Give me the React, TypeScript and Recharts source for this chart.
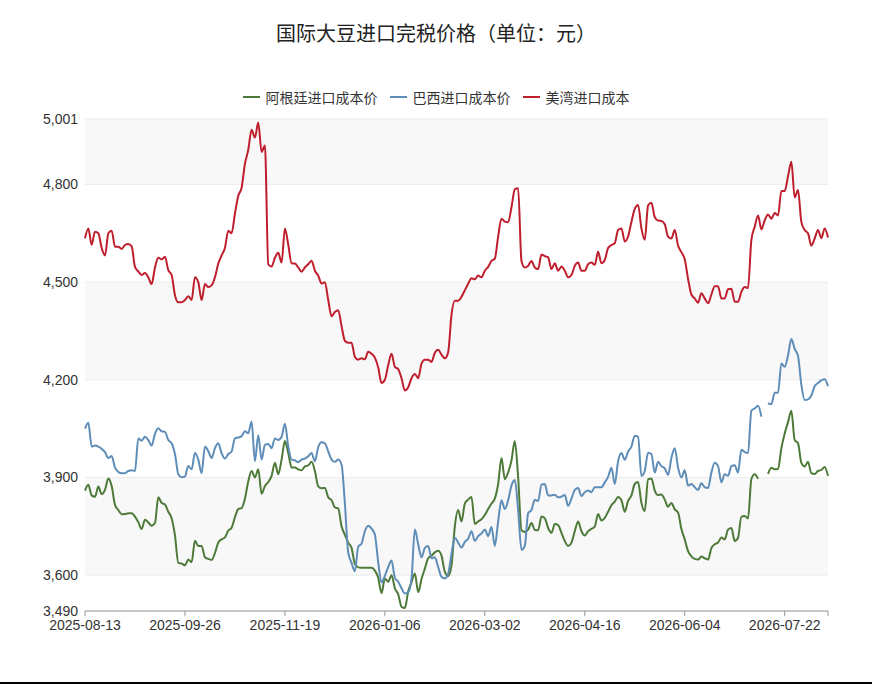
import React from 'react';
import { LineChart, Line, XAxis, YAxis, CartesianGrid } from 'recharts';

const TITLE = '国际大豆进口完税价格（单位：元）';
const SERIES_NAMES = ['阿根廷进口成本价', '巴西进口成本价', '美湾进口成本'];
const COLORS = ['#4d7a38', '#5e8db8', '#bf1e2d'];

const xTickLabels = ['2025-08-13', '2025-09-26', '2025-11-19', '2026-01-06', '2026-03-02', '2026-04-16', '2026-06-04', '2026-07-22'];
const xTickIndex = [0, 30, 60, 90, 120, 150, 180, 210, 223];
const yTicks = [3490, 3600, 3900, 4200, 4500, 4800, 5001];

const usGulf: (number | null)[] = [
  4635, 4665, 4615, 4655, 4650, 4605, 4582, 4650, 4658, 4609,
  4609, 4602, 4614, 4617, 4610, 4547, 4533, 4522, 4528, 4515,
  4494, 4545, 4575, 4570, 4578, 4537, 4522, 4460, 4438, 4438,
  4445, 4457, 4445, 4515, 4500, 4445, 4494, 4485, 4490, 4515,
  4557, 4582, 4605, 4658, 4650, 4710, 4765, 4790, 4863, 4906,
  4968, 4944, 4990, 4900, 4920, 4555, 4548, 4575, 4590, 4560,
  4665, 4615, 4558, 4557, 4545, 4532, 4545, 4555, 4566, 4535,
  4520, 4496, 4500, 4445, 4395, 4408, 4414, 4365, 4320, 4314,
  4314, 4270, 4262, 4266, 4263, 4286, 4280, 4268, 4238, 4190,
  4200, 4245, 4280, 4240, 4233, 4205, 4167, 4177, 4205, 4218,
  4205, 4250, 4262, 4262, 4255, 4283, 4292, 4277, 4266, 4285,
  4400, 4443, 4443, 4455, 4475, 4495, 4512, 4509, 4520, 4515,
  4535, 4547, 4565, 4572, 4640, 4695, 4686, 4684, 4730, 4785,
  4788, 4565, 4545, 4550, 4565, 4545, 4540, 4585, 4580, 4576,
  4540, 4558, 4535, 4548, 4535, 4515, 4522, 4550, 4560, 4535,
  4535, 4555, 4560, 4553, 4593, 4558, 4568, 4605, 4614, 4620,
  4660, 4665, 4625, 4640, 4685, 4725, 4737, 4665, 4630, 4735,
  4744, 4700, 4689, 4688, 4678, 4640, 4634, 4660, 4612, 4592,
  4570, 4510, 4462, 4450, 4437, 4466, 4450, 4435, 4462, 4487,
  4487, 4450, 4450, 4478, 4480, 4440, 4440, 4470, 4485, 4482,
  4630, 4670, 4705, 4662, 4690, 4708, 4695, 4712, 4705, 4780,
  4780, 4825, 4870, 4760, 4783, 4685, 4660, 4650, 4612, 4634,
  4660, 4635, 4665, 4637,
];

const argentina: (number | null)[] = [
  3860, 3878, 3845, 3841, 3872, 3849, 3862, 3897, 3874, 3816,
  3800, 3787, 3788, 3790, 3790, 3780, 3763, 3742, 3770, 3762,
  3752, 3760, 3839, 3822, 3817, 3795, 3775, 3722, 3638, 3636,
  3630, 3648, 3640, 3706, 3690, 3690, 3655, 3650, 3647, 3668,
  3700, 3710, 3716, 3737, 3746, 3778, 3803, 3806, 3835, 3888,
  3920, 3900, 3925, 3850, 3874, 3886, 3905, 3945, 3910, 3955,
  4012, 3975, 3931, 3931, 3925, 3922, 3934, 3937, 3948, 3920,
  3873, 3867, 3868, 3839, 3830, 3808, 3805, 3750, 3724, 3700,
  3684, 3635, 3624, 3623, 3623, 3623, 3623, 3614, 3592, 3545,
  3590, 3580, 3600, 3560, 3541, 3503, 3499, 3550, 3578, 3605,
  3548, 3588, 3620, 3652, 3660, 3670, 3675, 3660, 3610, 3597,
  3630, 3750, 3800, 3765, 3820, 3832, 3840, 3757, 3765, 3772,
  3785, 3803, 3820, 3835, 3880, 3960, 3895, 3916, 3952, 4012,
  3900, 3738, 3733, 3740, 3760, 3739, 3738, 3780, 3775, 3745,
  3730, 3757, 3754, 3730, 3705, 3690, 3700, 3735, 3765, 3735,
  3722, 3735, 3742, 3749, 3788, 3768, 3776, 3795, 3815, 3826,
  3840, 3830, 3795, 3828, 3845, 3880, 3886, 3822, 3797, 3894,
  3897, 3860, 3846, 3848, 3832, 3810, 3822, 3802, 3792, 3742,
  3710, 3674, 3658, 3650, 3648, 3657, 3652, 3648, 3683, 3695,
  3700, 3716, 3710, 3740, 3745, 3705, 3715, 3780, 3782, 3774,
  3895, 3910, 3896, null, null, 3911, 3930, 3925, 3926, 3990,
  4035, 4070, 4105, 4015, 4005, 3945, 3934, 3948, 3913, 3911,
  3920, 3923, 3932, 3905,
];

const brazil: (number | null)[] = [
  4050, 4068, 3995, 3998, 3995, 3988, 3978, 3960, 3966, 3930,
  3917, 3913, 3913, 3920, 3922, 3920, 4020, 4013, 4025, 4015,
  3998, 4034, 4051, 4042, 4040, 4015, 4005, 3972, 3910, 3901,
  3903, 3935, 3925, 3975, 3955, 3913, 3995, 3981, 3960, 3990,
  4005, 3975, 3958, 3972, 3980, 4020, 4023, 4027, 4042, 4036,
  4072, 3950, 4030, 3955, 4000, 4003, 3990, 4020, 4015, 4025,
  4065, 3995, 3955, 3953, 3947, 3955, 3958, 3965, 3975, 3950,
  3993, 4008, 4005, 3980, 3955, 3948, 3955, 3940, 3820, 3670,
  3638, 3612, 3687, 3697, 3735, 3752, 3743, 3725, 3640, 3578,
  3598, 3625, 3645, 3592, 3580, 3560, 3544, 3547, 3590, 3740,
  3695, 3655, 3684, 3690, 3652, 3655, 3625, 3595, 3590, 3605,
  3665, 3715, 3700, 3685, 3702, 3712, 3735, 3705, 3720, 3728,
  3740, 3720, 3748, 3690, 3765, 3830, 3803, 3830, 3875, 3892,
  3800, 3678, 3690, 3790, 3800, 3832, 3828, 3878, 3880, 3845,
  3845, 3847, 3839, 3841, 3846, 3813, 3835, 3862, 3868, 3843,
  3855, 3860, 3855, 3870, 3870, 3870, 3885, 3902, 3930, 3880,
  3950, 3975, 3954, 3980, 3995, 4028, 4025, 3905, 3920, 3976,
  3972, 3915, 3948, 3935, 3928, 3908, 3960, 3990, 3930, 3900,
  3922, 3875, 3880, 3870, 3862, 3882, 3870, 3868, 3915, 3945,
  3935, 3885, 3910, 3905, 3935, 3938, 3915, 3985, 3978, 3975,
  4105, 4112, 4120, 4087, null, 4128, 4125, 4160, 4160, 4250,
  4240, 4275, 4325, 4295, 4273, 4185, 4138, 4140, 4152, 4180,
  4190, 4198, 4202, 4180,
];

const data = usGulf.map((v, i) => ({
  i,
  ag: argentina[i],
  br: brazil[i],
  us: v,
}));

const FONT = '"Liberation Sans", Arial, "Noto Sans CJK SC", sans-serif';
const CJK = '"Noto Sans CJK SC", "Liberation Sans", sans-serif';

export default function App() {
  const formatX = (v: number) => {
    const k = xTickIndex.indexOf(v);
    return k >= 0 && k < xTickLabels.length ? xTickLabels[k] : '';
  };
  return (
    <div style={{ position: 'absolute', left: 0, top: 0, width: 872, height: 684, background: '#fff', fontFamily: FONT }}>
      <LineChart width={872} height={684} data={data} margin={{ top: 119, right: 44, bottom: 43, left: 0 }}>
        <CartesianGrid vertical={false} stroke="#ececec" horizontalFill={['#f8f8f8', '#ffffff']} fillOpacity={1} />
        <XAxis
          dataKey="i"
          type="number"
          domain={[0, 223]}
          ticks={xTickIndex}
          interval={0}
          tickFormatter={formatX}
          height={30}
          tickSize={5}
          tickMargin={4}
          stroke="#999"
          tick={{ fill: '#333', fontSize: 14, fontFamily: FONT }}
        />
        <YAxis
          domain={[3490, 5001]}
          ticks={yTicks}
          interval={0}
          width={85}
          axisLine={false}
          tickLine={false}
          tickSize={0}
          tickMargin={7}
          tickFormatter={(v: number) => v.toLocaleString('en-US')}
          tick={{ fill: '#333', fontSize: 14, fontFamily: FONT }}
        />
        <Line type="monotone" dataKey="ag" name={SERIES_NAMES[0]} stroke={COLORS[0]} strokeWidth={2} dot={false} isAnimationActive={false} />
        <Line type="monotone" dataKey="br" name={SERIES_NAMES[1]} stroke={COLORS[1]} strokeWidth={2} dot={false} isAnimationActive={false} />
        <Line type="monotone" dataKey="us" name={SERIES_NAMES[2]} stroke={COLORS[2]} strokeWidth={2} dot={false} isAnimationActive={false} />
      </LineChart>
      <div style={{ position: 'absolute', left: 0, top: 18, width: 872, textAlign: 'center', fontFamily: CJK, fontSize: 20, color: '#222', lineHeight: '30px' }}>
        {TITLE}
      </div>
      <div style={{ position: 'absolute', left: 0, top: 87, width: 872, display: 'flex', justifyContent: 'center', fontFamily: CJK, fontSize: 14, color: '#333', lineHeight: '20px' }}>
        {SERIES_NAMES.map((n, k) => (
          <span key={n} style={{ display: 'inline-flex', alignItems: 'center', margin: '0 6px' }}>
            <span style={{ display: 'inline-block', width: 17, height: 2, background: COLORS[k], marginRight: 6 }} />
            {n}
          </span>
        ))}
      </div>
      <div style={{ position: 'absolute', left: 0, top: 682, width: 872, height: 2, background: '#000' }} />
    </div>
  );
}
